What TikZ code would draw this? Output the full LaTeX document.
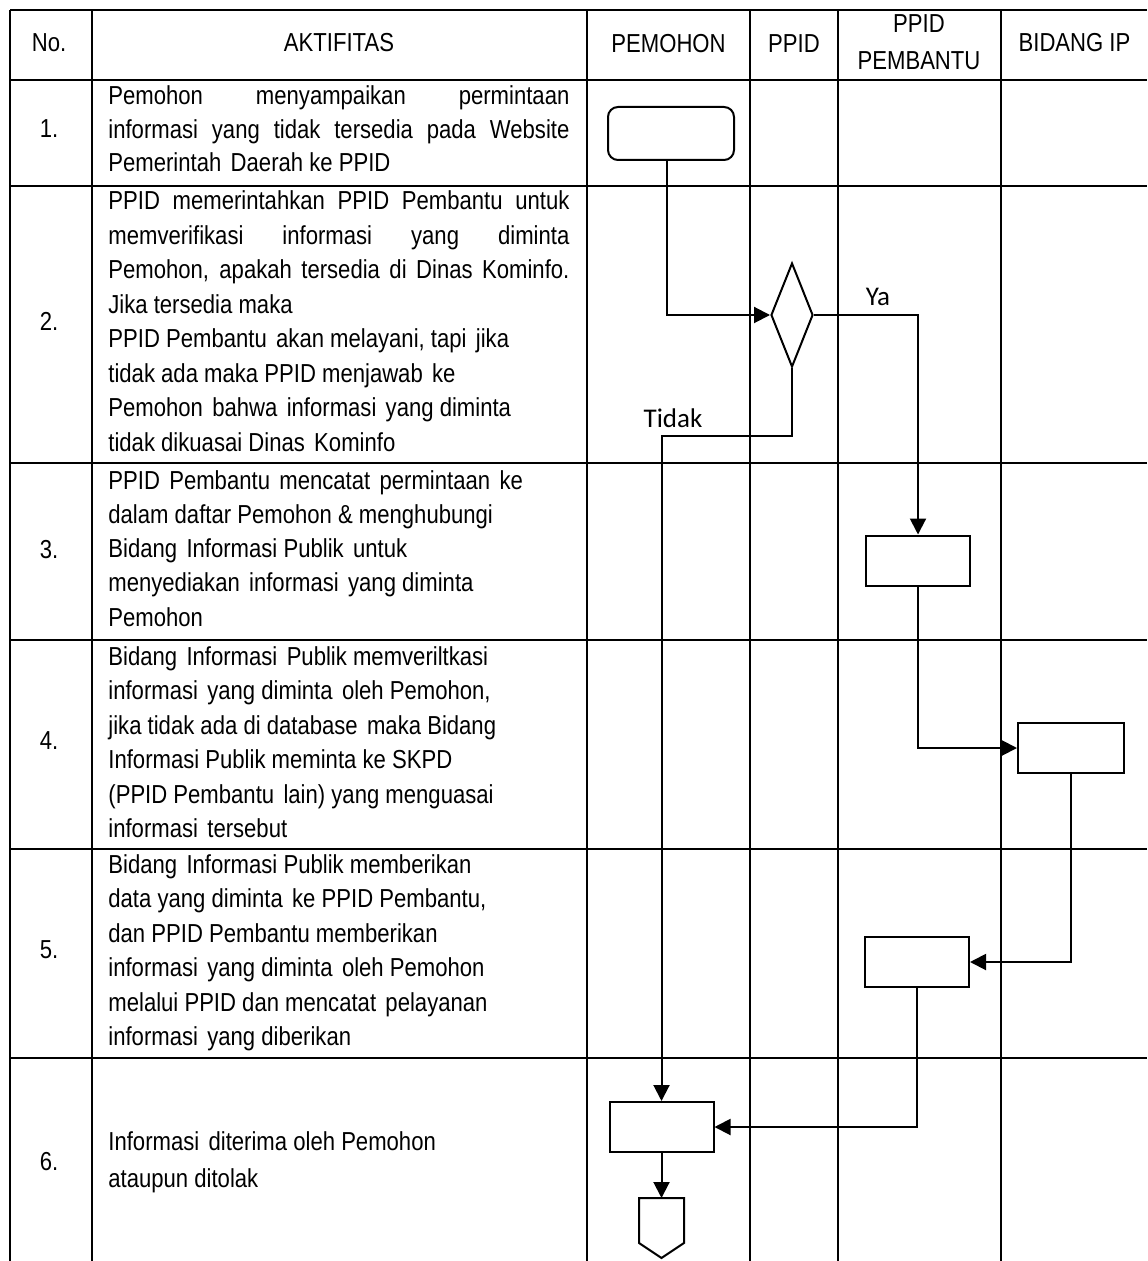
\documentclass[tikz,border=0pt]{standalone}
\usepackage{fontspec}
\setmainfont{Liberation Sans}[FakeStretch=0.85]
\newfontfamily\lblfont{Carlito}
\usetikzlibrary{arrows.meta,shapes.geometric}
\newcommand\jline[1]{\makebox[230.5pt][s]{#1}}
\newcommand\rowtext[2]{\parbox[t]{240pt}{\fontsize{13pt}{#1}\selectfont #2}}
\newcommand\dsp{\ \hspace{1.6pt}}
\begin{document}
\begin{tikzpicture}[x=0.5pt,y=-0.5pt,
  font=\fontsize{13pt}{17.2pt}\selectfont,
  grid/.style={line width=1pt},
  conn/.style={line width=1pt},
  arr/.style={conn,-{Triangle[length=8pt,width=8pt]}},
  box/.style={draw,line width=1pt,minimum width=52pt,minimum height=25pt,inner sep=0pt},
  txt/.style={anchor=base west,inner sep=0pt},
  hd/.style={anchor=base,inner sep=0pt},
  lbl/.style={font=\lblfont\fontsize{13.5pt}{16pt}\selectfont,anchor=base,inner sep=0pt}]
\useasboundingbox (0,0) rectangle (1147,1261);
\fill[white] (0,0) rectangle (1147,1261);
% grid
\foreach \yy in {10,80,186,463,640,849,1058}{\draw[grid] (10,\yy) -- (1147,\yy);}
\foreach \xx in {10,92,587,750,838,1001}{\draw[grid] (\xx,10) -- (\xx,1261);}
% header
\node[hd] (hno) at (49,52) {No.};
\node[hd] (hakt) at (339,52) {AKTIFITAS};
\node[hd] (hpem) at (668.5,53) {PEMOHON};
\node[hd] (hppid) at (794,53) {PPID};
\node[hd] (hpb1) at (919,33) {PPID};
\node[hd] (hpb2) at (919,70) {PEMBANTU};
\node[hd] (hbip) at (1074.5,52) {BIDANG IP};
% numbers
\node[hd] (n1) at (49,138) {1.};
\node[hd] (n2) at (49,331) {2.};
\node[hd] (n3) at (49,558) {3.};
\node[hd] (n4) at (49,749) {4.};
\node[hd] (n5) at (49,958) {5.};
\node[hd] (n6) at (49,1170) {6.};
% activity texts
\node[txt] (t1) at (108,105) {\rowtext{16.75pt}{%
\jline{Pemohon menyampaikan permintaan}\\
\jline{informasi yang tidak tersedia pada Website}\\
Pemerintah\dsp Daerah ke PPID}};
\node[txt] (t2) at (108,210) {\rowtext{17.25pt}{%
\jline{PPID memerintahkan PPID Pembantu untuk}\\
\jline{memverifikasi informasi yang diminta}\\
\jline{Pemohon, apakah tersedia di Dinas Kominfo.}\\
Jika tersedia maka\\
PPID Pembantu\dsp akan melayani, tapi\dsp jika\\
tidak ada maka PPID menjawab\dsp ke\\
Pemohon\dsp bahwa\dsp informasi\dsp yang diminta\\
tidak dikuasai Dinas\dsp Kominfo}};
\node[txt] (t3) at (108,489) {\rowtext{17.15pt}{%
PPID\dsp Pembantu\dsp mencatat\dsp permintaan\dsp ke\\
dalam daftar Pemohon \& menghubungi\\
Bidang\dsp Informasi Publik\dsp untuk\\
menyediakan\dsp informasi\dsp yang diminta\\
Pemohon}};
\node[txt] (t4) at (108,665) {\rowtext{17.25pt}{%
Bidang\dsp Informasi\dsp Publik memveriltkasi\\
informasi\dsp yang diminta\dsp oleh Pemohon,\\
jika tidak ada di database\dsp maka Bidang\\
Informasi Publik meminta ke SKPD\\
(PPID Pembantu\dsp lain) yang menguasai\\
informasi\dsp tersebut}};
\node[txt] (t5) at (108,873) {\rowtext{17.25pt}{%
Bidang\dsp Informasi Publik memberikan\\
data yang diminta\dsp ke PPID Pembantu,\\
dan PPID Pembantu memberikan\\
informasi\dsp yang diminta\dsp oleh Pemohon\\
melalui PPID dan mencatat\dsp pelayanan\\
informasi\dsp yang diberikan}};
\node[txt] (t6) at (108,1150) {\rowtext{18.5pt}{%
Informasi\dsp diterima oleh Pemohon\\
ataupun ditolak}};
% flow shapes
\node[box,rounded corners=5pt,minimum width=63pt,minimum height=26.5pt] (start) at (671,133.5) {};
\node[draw,diamond,line width=1pt,minimum width=21pt,minimum height=52pt,inner sep=0pt] (dec) at (792,315) {};
\node[box] (b3) at (918,560.5) {};
\node[box,minimum width=53pt] (b4) at (1071,748) {};
\node[box] (b5) at (917,962) {};
\node[box] (b6) at (661.5,1127) {};
\coordinate (endc) at (661.5,1198);
\draw[conn,line join=miter] (endc) -- (684,1198) -- (684,1243) -- (661.5,1258) -- (639,1243) -- (639,1198) -- cycle;
\coordinate (tk) at (661.5,436);
% connectors
\draw[arr] ([xshift=-2pt]start.south) |- (dec.west);
\draw[arr] (dec.east) -| (b3.north);
\draw[arr] (dec.south) |- (tk) -- (b6.north);
\draw[arr] (b3.south) |- (b4.west);
\draw[arr] (b4.south) |- (b5.east);
\draw[arr] (b5.south) |- (b6.east);
\draw[arr] (b6.south) -- (endc);
% labels
\node[lbl] (ya) at (878,306) {Ya};
\node[lbl] (tidak) at (673,427) {Tidak};
\end{tikzpicture}
\end{document}
